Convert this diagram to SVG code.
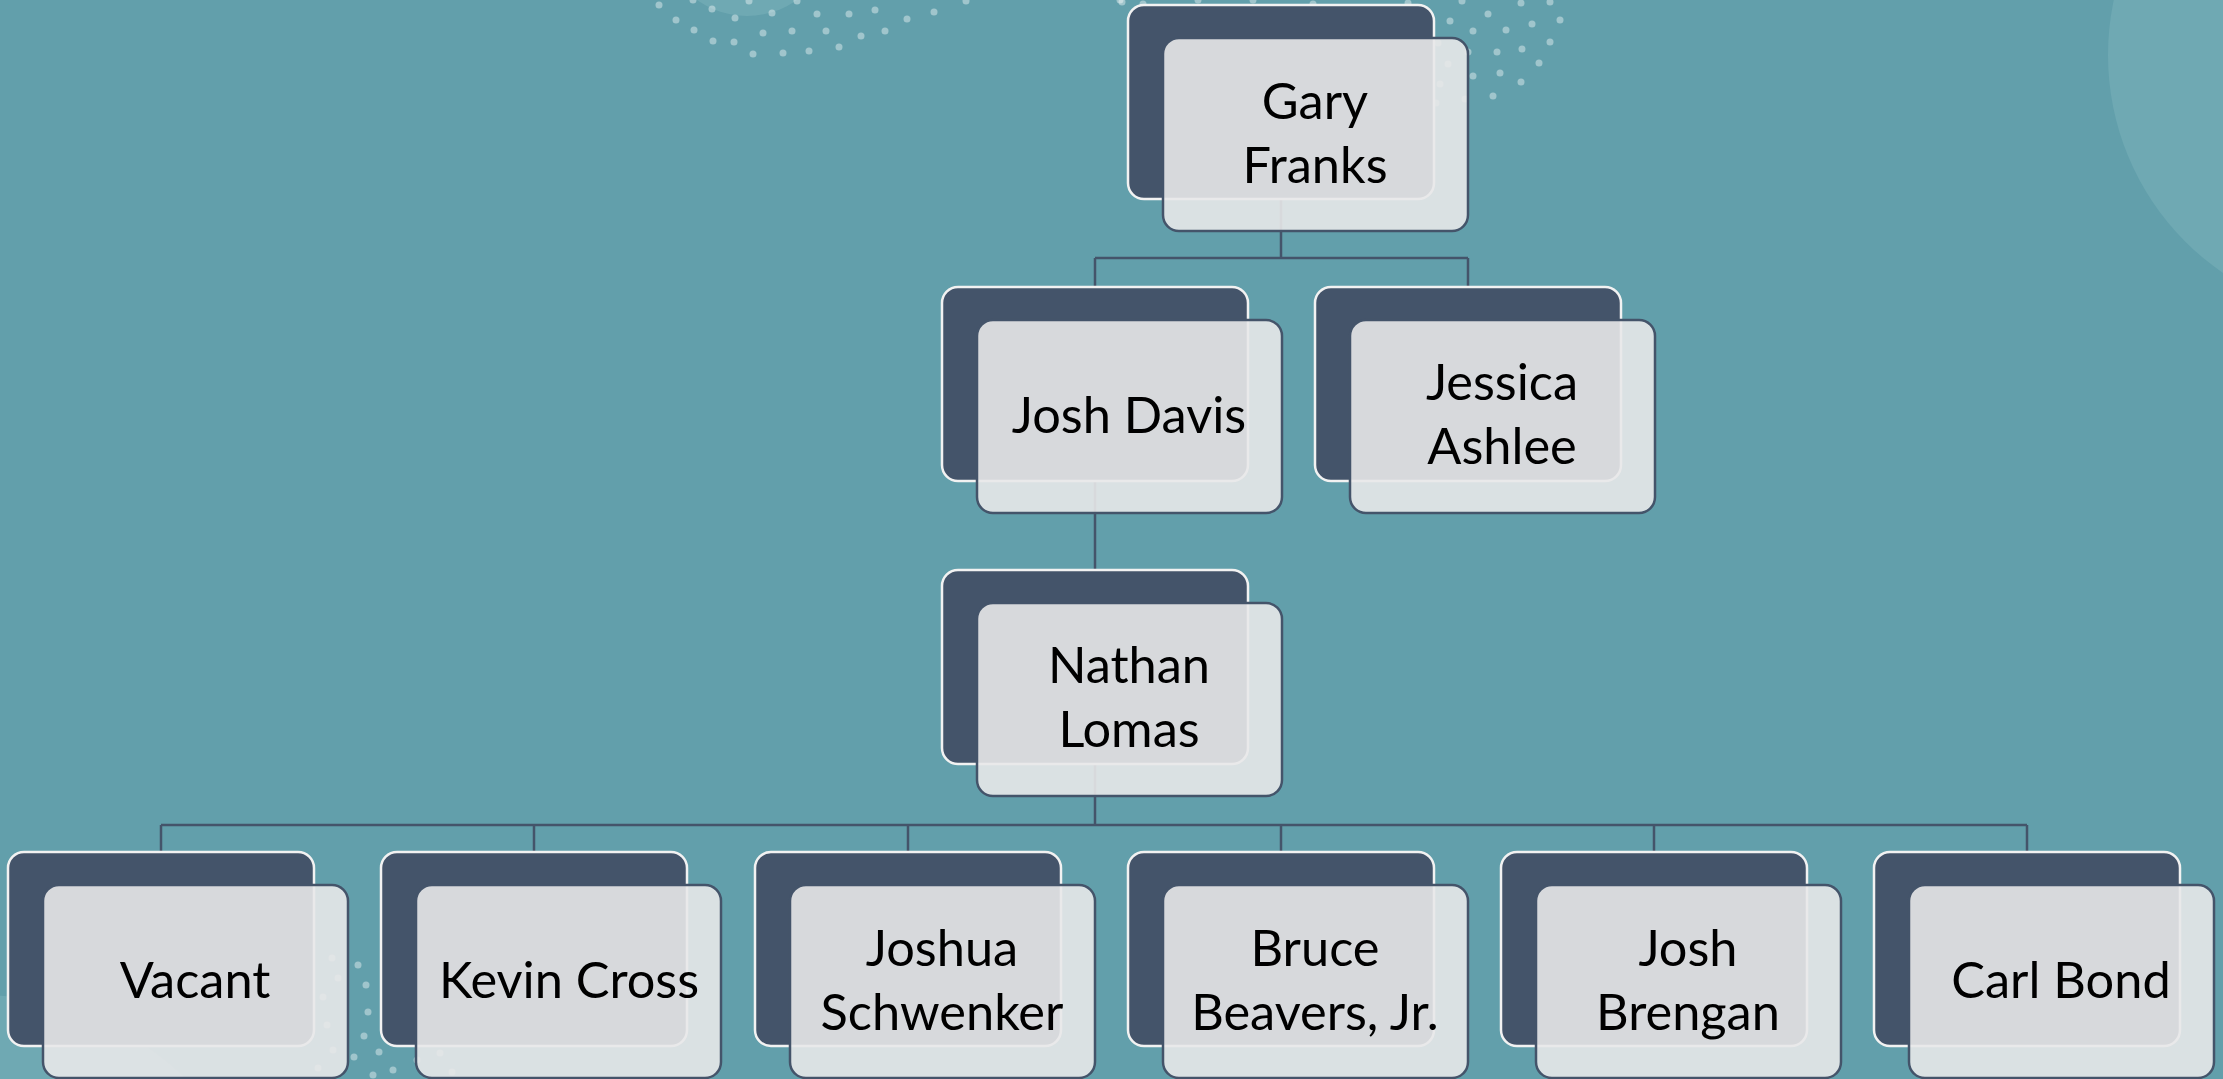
<svg xmlns="http://www.w3.org/2000/svg" width="2223" height="1079" viewBox="0 0 2223 1079">
<style>
.bg{fill:#629fab}
.blob{fill:#6fa9b3}
.dot{fill:#ffffff;fill-opacity:0.4}
.back{fill:#44546a;stroke:#f2f2f2;stroke-width:2.5}
.front{fill:#e8e8e9;fill-opacity:0.9;stroke:#44546a;stroke-width:2.5}
.lbl{font-family:Lato,"Liberation Sans",sans-serif;font-size:50.5px;fill:#000;text-anchor:middle}
.conn{fill:none;stroke:#44546a;stroke-width:2.5}
</style>
<defs>
<rect id="bk" class="back" width="306" height="194" rx="16"/>
<rect id="fr" class="front" width="305" height="193" rx="16"/>
</defs>
<rect class="bg" x="0" y="0" width="2223" height="1079"/>
<g id="decor">
<circle class="blob" cx="2372" cy="55" r="264"/>
<circle class="blob" cx="747" cy="-70" r="86"/>
<circle class="blob" cx="-20" cy="1290" r="295"/>
<g class="dots">
<circle class="dot" cx="659" cy="5" r="3.5"/><circle class="dot" cx="693" cy="0" r="3.5"/><circle class="dot" cx="712" cy="9" r="3.5"/><circle class="dot" cx="749" cy="1" r="3.5"/><circle class="dot" cx="797" cy="1" r="3.5"/><circle class="dot" cx="676" cy="20" r="3.5"/><circle class="dot" cx="735" cy="18" r="3.5"/><circle class="dot" cx="772" cy="13" r="3.5"/><circle class="dot" cx="817" cy="14" r="3.5"/><circle class="dot" cx="849" cy="14" r="3.5"/><circle class="dot" cx="875" cy="10" r="3.5"/><circle class="dot" cx="966" cy="1" r="3.5"/><circle class="dot" cx="694" cy="30" r="3.5"/><circle class="dot" cx="763" cy="33" r="3.5"/><circle class="dot" cx="792" cy="31" r="3.5"/><circle class="dot" cx="826" cy="31" r="3.5"/><circle class="dot" cx="861" cy="36" r="3.5"/><circle class="dot" cx="885" cy="31" r="3.5"/><circle class="dot" cx="907" cy="19" r="3.5"/><circle class="dot" cx="934" cy="12" r="3.5"/><circle class="dot" cx="713" cy="41" r="3.5"/><circle class="dot" cx="734" cy="42" r="3.5"/><circle class="dot" cx="753" cy="54" r="3.5"/><circle class="dot" cx="783" cy="53" r="3.5"/><circle class="dot" cx="809" cy="51" r="3.5"/><circle class="dot" cx="839" cy="47" r="3.5"/><circle class="dot" cx="1120" cy="0" r="3.5"/><circle class="dot" cx="1122" cy="2" r="3.5"/><circle class="dot" cx="1143" cy="4" r="3.5"/><circle class="dot" cx="1198" cy="0" r="3.5"/><circle class="dot" cx="1253" cy="0" r="3.5"/><circle class="dot" cx="1313" cy="4" r="3.5"/><circle class="dot" cx="1408" cy="3" r="3.5"/><circle class="dot" cx="1462" cy="1" r="3.5"/><circle class="dot" cx="1521" cy="3" r="3.5"/><circle class="dot" cx="1550" cy="2" r="3.5"/><circle class="dot" cx="1488" cy="14" r="3.5"/><circle class="dot" cx="1450" cy="21" r="3.5"/><circle class="dot" cx="1473" cy="31" r="3.5"/><circle class="dot" cx="1506" cy="30" r="3.5"/><circle class="dot" cx="1532" cy="24" r="3.5"/><circle class="dot" cx="1560" cy="20" r="3.5"/><circle class="dot" cx="1438" cy="43" r="3.5"/><circle class="dot" cx="1468" cy="52" r="3.5"/><circle class="dot" cx="1497" cy="52" r="3.5"/><circle class="dot" cx="1522" cy="49" r="3.5"/><circle class="dot" cx="1550" cy="42" r="3.5"/><circle class="dot" cx="1539" cy="63" r="3.5"/><circle class="dot" cx="1448" cy="64" r="3.5"/><circle class="dot" cx="1473" cy="76" r="3.5"/><circle class="dot" cx="1500" cy="73" r="3.5"/><circle class="dot" cx="1521" cy="82" r="3.5"/><circle class="dot" cx="1440" cy="84" r="3.5"/><circle class="dot" cx="1493" cy="96" r="3.5"/><circle class="dot" cx="1465" cy="99" r="3.5"/><circle class="dot" cx="1436" cy="103" r="3.5"/>
<circle class="dot" cx="358" cy="965" r="3.5"/><circle class="dot" cx="366" cy="985" r="3.5"/><circle class="dot" cx="368" cy="1012" r="3.5"/><circle class="dot" cx="364" cy="1036" r="3.5"/><circle class="dot" cx="354" cy="1057" r="3.5"/><circle class="dot" cx="379" cy="1052" r="3.5"/><circle class="dot" cx="373" cy="1075" r="3.5"/><circle class="dot" cx="393" cy="1070" r="3.5"/><circle class="dot" cx="332" cy="958" r="3.5"/><circle class="dot" cx="338" cy="978" r="3.5"/><circle class="dot" cx="323" cy="997" r="3.5"/><circle class="dot" cx="327" cy="1025" r="3.5"/><circle class="dot" cx="333" cy="1050" r="3.5"/><circle class="dot" cx="318" cy="1068" r="3.5"/><circle class="dot" cx="417" cy="1060" r="3.5"/><circle class="dot" cx="440" cy="1053" r="3.5"/><circle class="dot" cx="452" cy="1072" r="3.5"/>
</g>
</g>
<g id="connectors">
<path class="conn" d="M1281 199V258M1095 258H1468M1095 258V287M1468 258V287"/>
<path class="conn" d="M1095 481V570"/>
<path class="conn" d="M1095 764V825M161 825H2027M161 825V852M534 825V852M908 825V852M1281 825V852M1654 825V852M2027 825V852"/>
</g>
<g id="gary-franks"><use href="#bk" x="1128" y="5"/><use href="#fr" x="1163" y="38"/><text class="lbl" x="1315"><tspan x="1315" y="119">Gary</tspan><tspan x="1315" y="183">Franks</tspan></text></g>
<g id="josh-davis"><use href="#bk" x="942" y="287"/><use href="#fr" x="977" y="320"/><text class="lbl" x="1129" y="433">Josh Davis</text></g>
<g id="jessica-ashlee"><use href="#bk" x="1315" y="287"/><use href="#fr" x="1350" y="320"/><text class="lbl" x="1502"><tspan x="1502" y="400">Jessica</tspan><tspan x="1502" y="464">Ashlee</tspan></text></g>
<g id="nathan-lomas"><use href="#bk" x="942" y="570"/><use href="#fr" x="977" y="603"/><text class="lbl" x="1129"><tspan x="1129" y="683">Nathan</tspan><tspan x="1129" y="747">Lomas</tspan></text></g>
<g id="vacant"><use href="#bk" x="8" y="852"/><use href="#fr" x="43" y="885"/><text class="lbl" x="195" y="998">Vacant</text></g>
<g id="kevin-cross"><use href="#bk" x="381" y="852"/><use href="#fr" x="416" y="885"/><text class="lbl" x="569" y="998">Kevin Cross</text></g>
<g id="joshua-schwenker"><use href="#bk" x="755" y="852"/><use href="#fr" x="790" y="885"/><text class="lbl" x="942"><tspan x="942" y="966">Joshua</tspan><tspan x="942" y="1030">Schwenker</tspan></text></g>
<g id="bruce-beavers"><use href="#bk" x="1128" y="852"/><use href="#fr" x="1163" y="885"/><text class="lbl" x="1315"><tspan x="1315" y="966">Bruce</tspan><tspan x="1315" y="1030">Beavers, Jr.</tspan></text></g>
<g id="josh-brengan"><use href="#bk" x="1501" y="852"/><use href="#fr" x="1536" y="885"/><text class="lbl" x="1688"><tspan x="1688" y="966">Josh</tspan><tspan x="1688" y="1030">Brengan</tspan></text></g>
<g id="carl-bond"><use href="#bk" x="1874" y="852"/><use href="#fr" x="1909" y="885"/><text class="lbl" x="2061" y="998">Carl Bond</text></g>
</svg>
